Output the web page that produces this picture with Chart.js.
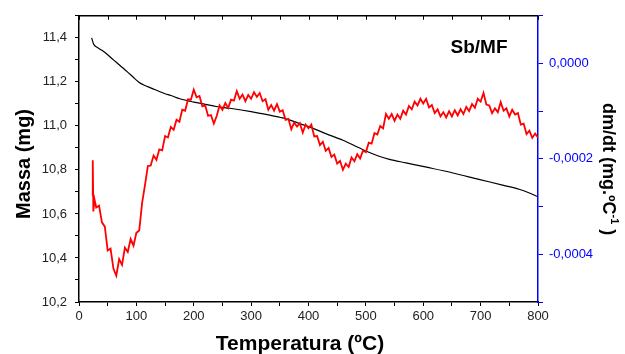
<!DOCTYPE html>
<html lang="pt">
<head>
<meta charset="UTF-8" />
<title>Sb/MF TGA</title>
<script src="https://cdn.jsdelivr.net/npm/chart.js"></script>
<style>
  body { margin: 0; background: #fff; }
  canvas { display: block; }
</style>
</head>
<body>
<canvas id="tgaChart" width="625" height="354"></canvas>
<script>
// mass curve (left axis, mg)
const massTemp = [22, 23, 25, 28, 32, 40, 50, 60, 70, 80, 90, 95, 100, 105, 112, 118, 123, 130, 140, 150, 160,
  176, 200, 220, 239, 263, 300, 330, 355, 380, 407, 430, 460, 494, 523, 541, 570, 610, 650, 697, 740, 767, 785, 800];
const massValues = [11.400, 11.392, 11.374, 11.363, 11.356, 11.343, 11.323, 11.300, 11.278, 11.255, 11.232, 11.220,
  11.208, 11.197, 11.187, 11.180, 11.175, 11.167, 11.156, 11.146, 11.138, 11.123, 11.108, 11.098, 11.088, 11.080,
  11.065, 11.050, 11.036, 11.015, 10.990, 10.965, 10.935, 10.893, 10.862, 10.848, 10.832, 10.810, 10.787, 10.757,
  10.730, 10.712, 10.695, 10.678];

// dm/dt curve (right axis, x 1e-4 mg/ºC)
const dtgTemp = [23, 24, 25, 27,
  30, 35, 40, 45, 50, 55, 60, 65, 70, 75, 80, 85, 90, 95,
  100, 105, 110, 115, 120, 125, 130, 135, 140, 145, 150, 155, 160, 165, 170, 175, 180, 185, 190, 195,
  200, 205, 210, 215, 220, 225, 230, 235, 240, 245, 250, 255, 260, 265, 270, 275, 280, 285, 290, 295,
  300, 305, 310, 315, 320, 325, 330, 335, 340, 345, 350, 355, 360, 365, 370, 375, 380, 385, 390, 395,
  400, 405, 410, 415, 420, 425, 430, 435, 440, 445, 450, 455, 460, 465, 470, 475, 480, 485, 490, 495,
  500, 505, 510, 515, 520, 525, 530, 535, 540, 545, 550, 555, 560, 565, 570, 575, 580, 585, 590, 595,
  600, 605, 610, 615, 620, 625, 630, 635, 640, 645, 650, 655, 660, 665, 670, 675, 680, 685, 690, 695,
  700, 705, 710, 715, 720, 725, 730, 735, 740, 745, 750, 755, 760, 765, 770, 775, 780, 785, 790, 795, 800];
const dtgValues = [-2.77, -2.03, -3.10, -2.85,
  -3.02, -2.98, -3.33, -3.42, -3.92, -3.88, -4.30, -4.45, -4.10, -4.22, -3.86, -3.95, -3.68, -3.82,
  -3.55, -3.50, -2.92, -2.55, -2.15, -2.14, -1.93, -2.02, -1.80, -1.82, -1.52, -1.55, -1.33, -1.39, -1.18, -1.22, -0.97, -0.99, -0.75, -0.76,
  -0.55, -0.71, -0.68, -0.90, -0.88, -1.10, -1.08, -1.26, -1.10, -0.88, -0.97, -0.83, -0.93, -0.76, -0.78, -0.58, -0.74, -0.65, -0.79, -0.66,
  -0.74, -0.60, -0.70, -0.62, -0.79, -0.75, -0.97, -0.87, -0.99, -0.85, -1.01, -0.98, -1.18, -1.16, -1.38, -1.24, -1.32, -1.25, -1.45, -1.28,
  -1.36, -1.28, -1.53, -1.52, -1.71, -1.64, -1.83, -1.77, -1.96, -1.91, -2.10, -2.04, -2.23, -2.10, -2.17, -1.97, -2.05, -1.90, -1.99, -1.83,
  -1.86, -1.66, -1.68, -1.46, -1.49, -1.31, -1.36, -1.06, -1.16, -1.06, -1.20, -1.07, -1.16, -0.99, -1.07, -0.89, -0.96, -0.80, -0.88, -0.74,
  -0.84, -0.74, -0.92, -0.87, -1.04, -0.96, -1.11, -1.02, -1.13, -1.00, -1.11, -0.98, -1.09, -0.96, -1.06, -0.91, -1.00, -0.85, -0.93, -0.74,
  -0.80, -0.62, -0.86, -0.88, -1.04, -0.94, -1.02, -0.81, -0.99, -0.94, -1.11, -0.97, -1.07, -1.04, -1.28, -1.26, -1.48, -1.41, -1.56, -1.47, -1.55];

const FONT = "'Liberation Sans', Arial, sans-serif";
const BLUE = "#0000ff";

// titles, label and the top frame with inward ticks
const extras = {
    id: "extras",
    afterDraw(chart) {
        const ctx = chart.ctx;
        const area = chart.chartArea;
        const xs = chart.scales.x;
        ctx.save();

        ctx.strokeStyle = "#000";
        ctx.lineWidth = 1.5;
        ctx.beginPath();
        ctx.moveTo(area.left, area.top);
        ctx.lineTo(area.right, area.top);
        ctx.stroke();
        ctx.lineWidth = 1;
        xs.ticks.forEach((t) => {
            const px = Math.round(xs.getPixelForValue(t.value)) + 0.5;
            ctx.beginPath();
            ctx.moveTo(px, area.top);
            ctx.lineTo(px, area.top + 4);
            ctx.stroke();
        });

        ctx.fillStyle = "#000";
        ctx.textBaseline = "alphabetic";

        ctx.font = "bold 21px " + FONT;
        ctx.textAlign = "center";
        ctx.fillText("Temperatura (ºC)", 300, 350);

        ctx.font = "bold 19px " + FONT;
        ctx.fillText("Sb/MF", 479, 53);

        ctx.save();
        ctx.translate(30, 164);
        ctx.rotate(-Math.PI / 2);
        ctx.font = "bold 20px " + FONT;
        ctx.fillText("Massa (mg)", 0, 0);
        ctx.restore();

        ctx.save();
        ctx.translate(603, 103);
        ctx.rotate(Math.PI / 2);
        ctx.textAlign = "left";
        ctx.font = "bold 18px " + FONT;
        const main = "dm/dt (mg.ºC";
        ctx.fillText(main, 0, 0);
        let off = ctx.measureText(main).width;
        ctx.font = "bold 11px " + FONT;
        ctx.fillText("-1", off, -8);
        off += ctx.measureText("-1").width;
        ctx.font = "bold 18px " + FONT;
        ctx.fillText(" )", off, 0);
        ctx.restore();

        ctx.restore();
    },
};

new Chart(document.getElementById("tgaChart"), {
    type: "line",
    data: {
        datasets: [
            {
                label: "dm/dt",
                data: dtgTemp.map((t, i) => ({ x: t, y: dtgValues[i] })),
                yAxisID: "y2",
                borderColor: "#ff0000",
                borderWidth: 1.8,
                pointRadius: 0,
                tension: 0,
            },
            {
                label: "Massa",
                data: massTemp.map((t, i) => ({ x: t, y: massValues[i] })),
                yAxisID: "y",
                borderColor: "#000",
                borderWidth: 1.2,
                pointRadius: 0,
                cubicInterpolationMode: "monotone",
            },
        ],
    },
    options: {
        responsive: false,
        animation: false,
        devicePixelRatio: 1,
        layout: { padding: { top: 14, left: 0, right: 0, bottom: 0 } },
        plugins: { legend: { display: false }, tooltip: { enabled: false } },
        scales: {
            x: {
                type: "linear",
                position: "bottom",
                min: 0,
                max: 800,
                ticks: {
                    stepSize: 50,
                    autoSkip: false,
                    maxRotation: 0,
                    padding: 3,
                    color: "#222",
                    font: { family: FONT, size: 13 },
                    callback: (v) => (Math.round(v) % 100 === 0 ? Math.round(v) : ""),
                },
                grid: { drawOnChartArea: false, tickLength: 4, color: "#000" },
                border: { color: "#000", width: 1.5 },
                afterFit: (s) => { s.height = 52; },
            },
            y: {
                position: "left",
                min: 10.2,
                max: 11.5,
                ticks: {
                    stepSize: 0.1,
                    autoSkip: false,
                    padding: 8,
                    color: "#222",
                    font: { family: FONT, size: 13 },
                    callback: (v) => {
                        const k = Math.round(v * 10);
                        return k % 2 === 0 ? (k / 10).toFixed(1).replace(".", ",") : "";
                    },
                },
                grid: { drawOnChartArea: false, tickLength: 4, color: "#000" },
                border: { color: "#000", width: 1.5 },
                afterFit: (s) => { s.width = 79; },
            },
            y2: {
                position: "right",
                min: -5,
                max: 1,
                ticks: {
                    stepSize: 1,
                    autoSkip: false,
                    padding: 6,
                    color: BLUE,
                    font: { family: FONT, size: 13 },
                    callback: (v) => {
                        const k = Math.round(v);
                        return k % 2 === 0 && k <= 0 ? (k / 1e4).toFixed(4).replace(".", ",") : "";
                    },
                },
                grid: { drawOnChartArea: false, tickLength: 5, color: BLUE },
                border: { color: BLUE, width: 1.5 },
                afterFit: (s) => { s.width = 87; },
            },
        },
    },
    plugins: [extras],
});
</script>
</body>
</html>
